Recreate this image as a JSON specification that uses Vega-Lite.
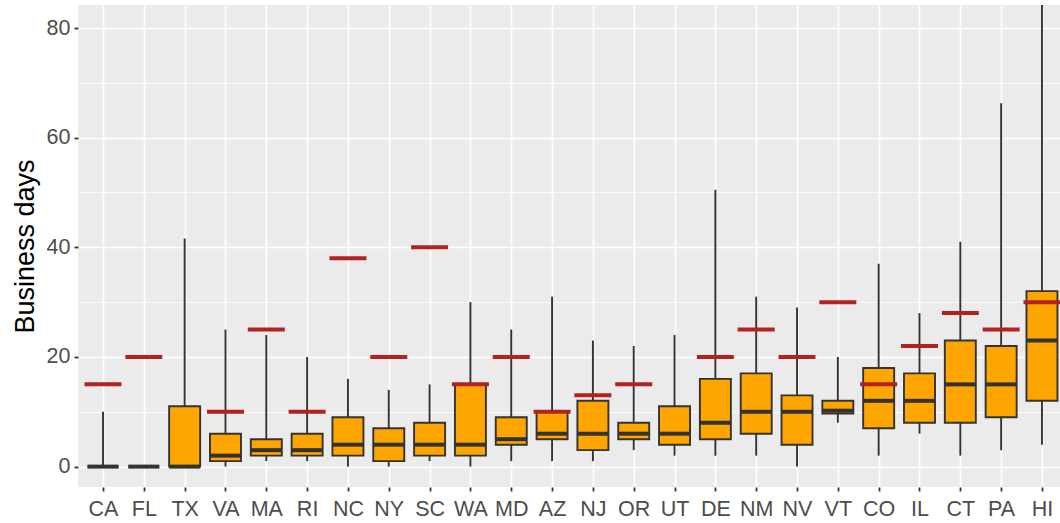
{
  "$schema": "https://vega.github.io/schema/vega-lite/v6.json",
  "width": 982,
  "height": 482,
  "autosize": {"type": "none"},
  "padding": {"left": 78, "top": 5, "right": 0, "bottom": 36},
  "background": "white",
  "config": {
    "view": {"fill": "#EBEBEB", "stroke": null},
    "font": "Liberation Sans",
    "axis": {"domain": false}
  },
  "data": {
    "values": [
      {"state": "CA", "lower": 0, "q1": 0, "median": 0, "q3": 0, "upper": 10, "ref": 15},
      {"state": "FL", "lower": 0, "q1": 0, "median": 0, "q3": 0, "upper": 0, "ref": 20},
      {"state": "TX", "lower": 0, "q1": 0, "median": 0, "q3": 11, "upper": 41.6, "ref": null},
      {"state": "VA", "lower": 0, "q1": 1, "median": 2, "q3": 6, "upper": 25, "ref": 10},
      {"state": "MA", "lower": 1, "q1": 2, "median": 3, "q3": 5, "upper": 24, "ref": 25},
      {"state": "RI", "lower": 1, "q1": 2, "median": 3, "q3": 6, "upper": 20, "ref": 10},
      {"state": "NC", "lower": 0, "q1": 2, "median": 4, "q3": 9, "upper": 16, "ref": 38},
      {"state": "NY", "lower": 0, "q1": 1, "median": 4, "q3": 7, "upper": 14, "ref": 20},
      {"state": "SC", "lower": 1, "q1": 2, "median": 4, "q3": 8, "upper": 15, "ref": 40},
      {"state": "WA", "lower": 0, "q1": 2, "median": 4, "q3": 15, "upper": 30, "ref": 15},
      {"state": "MD", "lower": 1, "q1": 4, "median": 5, "q3": 9, "upper": 25, "ref": 20},
      {"state": "AZ", "lower": 1, "q1": 5, "median": 6, "q3": 10, "upper": 31, "ref": 10},
      {"state": "NJ", "lower": 1, "q1": 3, "median": 6, "q3": 12, "upper": 23, "ref": 13},
      {"state": "OR", "lower": 3, "q1": 5, "median": 6, "q3": 8, "upper": 22, "ref": 15},
      {"state": "UT", "lower": 2, "q1": 4, "median": 6, "q3": 11, "upper": 24, "ref": null},
      {"state": "DE", "lower": 2, "q1": 5, "median": 8, "q3": 16, "upper": 50.5, "ref": 20},
      {"state": "NM", "lower": 2, "q1": 6, "median": 10, "q3": 17, "upper": 31, "ref": 25},
      {"state": "NV", "lower": 0, "q1": 4, "median": 10, "q3": 13, "upper": 29, "ref": 20},
      {"state": "VT", "lower": 8, "q1": 9.7, "median": 10.2, "q3": 12, "upper": 20, "ref": 30},
      {"state": "CO", "lower": 2, "q1": 7, "median": 12, "q3": 18, "upper": 37, "ref": 15},
      {"state": "IL", "lower": 6, "q1": 8, "median": 12, "q3": 17, "upper": 28, "ref": 22},
      {"state": "CT", "lower": 2, "q1": 8, "median": 15, "q3": 23, "upper": 41, "ref": 28},
      {"state": "PA", "lower": 3, "q1": 9, "median": 15, "q3": 22, "upper": 66.3, "ref": 25},
      {"state": "HI", "lower": 4, "q1": 12, "median": 23, "q3": 32, "upper": 84.2, "ref": 30}
    ]
  },
  "encoding": {
    "x": {
      "field": "state",
      "type": "nominal",
      "sort": null,
      "scale": {"type": "point", "padding": 0.527, "align": 0.581},
      "axis": {
        "title": null,
        "grid": true,
        "gridColor": "white",
        "gridWidth": 1.6,
        "tickColor": "#333333",
        "tickSize": 4,
        "tickWidth": 1.8,
        "labelFontSize": 21.5,
        "labelColor": "#4D4D4D",
        "labelPadding": 7,
        "labelAngle": 0
      }
    }
  },
  "layer": [
    {
      "mark": {"type": "rule", "color": "#333333", "strokeWidth": 1.9},
      "encoding": {
        "y": {
          "field": "lower",
          "type": "quantitative",
          "scale": {"domain": [-3.72, 84.2], "nice": false, "zero": false},
          "axis": {
            "title": "Business days",
            "titleFontSize": 27,
            "titleFontWeight": "normal",
            "titleColor": "black",
            "titlePadding": 7,
            "values": [0, 10, 20, 30, 40, 50, 60, 70, 80],
            "labelExpr": "datum.value % 20 === 0 ? datum.label : ''",
            "labelFontSize": 21.5,
            "labelColor": "#4D4D4D",
            "labelPadding": 4,
            "grid": true,
            "gridColor": "white",
            "gridWidth": {"condition": {"test": "datum.value % 20 === 0", "value": 1.7}, "value": 0.8},
            "tickColor": "#333333",
            "tickSize": 4,
            "tickWidth": 1.8,
            "tickOpacity": {"condition": {"test": "datum.value % 20 === 0", "value": 1}, "value": 0}
          }
        },
        "y2": {"field": "upper"}
      }
    },
    {
      "mark": {"type": "bar", "width": 31, "fill": "#FFA500", "stroke": "#333333", "strokeWidth": 1.9},
      "encoding": {
        "y": {"field": "q1", "type": "quantitative"},
        "y2": {"field": "q3"}
      }
    },
    {
      "mark": {"type": "tick", "size": 31, "thickness": 4, "color": "#333333", "opacity": 1},
      "encoding": {
        "y": {"field": "median", "type": "quantitative"}
      }
    },
    {
      "mark": {"type": "tick", "size": 37, "thickness": 4, "color": "#B22222", "opacity": 1},
      "encoding": {
        "y": {"field": "ref", "type": "quantitative"}
      }
    }
  ]
}
